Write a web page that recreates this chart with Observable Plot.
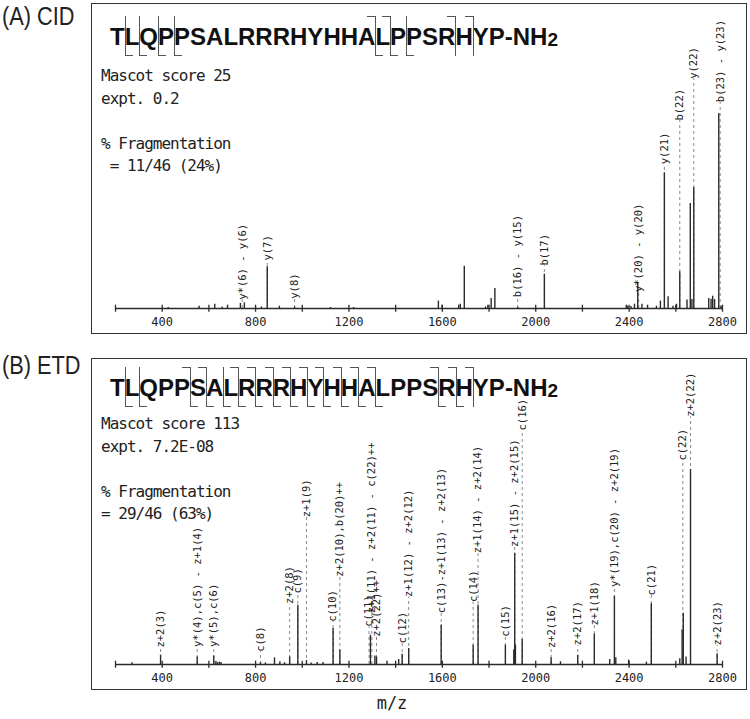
<!DOCTYPE html>
<html>
<head>
<meta charset="utf-8">
<script src="https://cdn.jsdelivr.net/npm/d3@7"></script>
<script src="https://cdn.jsdelivr.net/npm/@observablehq/plot@0.6"></script>
<style>
  body { margin: 0; background: #fff; }
  #root { position: relative; width: 750px; height: 719px; overflow: hidden; color: #222; font-family: "DejaVu Sans Mono", monospace; }
  .box { position: absolute; border: 1px solid #333; box-sizing: border-box; pointer-events: none; }
  .plot { position: absolute; }
  .plot svg { overflow: visible; }
  .plabel { position: absolute; left: 2px; font-family: "Liberation Sans", Arial, sans-serif; font-size: 25px; line-height: 25px; white-space: nowrap; transform: scaleX(0.87); transform-origin: 0 0; }
  .info { position: absolute; left: 101px; font-family: "DejaVu Sans Mono", monospace; font-size: 16px; letter-spacing: -1px; line-height: 22.5px; white-space: pre; }
  .seq { position: absolute; left: 110px; font-family: "Liberation Sans", Arial, sans-serif; font-weight: bold; font-size: 24px; line-height: 24px; white-space: nowrap; color: #111; }
  .seq .sub { font-size: 19px; vertical-align: -1px; }
  .cut { display: inline-block; position: relative; width: 0; height: 0; vertical-align: baseline; }
  .cut i { position: absolute; display: block; }
  .cut .v { left: 0; top: -29px; height: 40px; border-left: 1px solid #555; }
  .cut .t { left: -8px; top: -29px; width: 8px; border-top: 1px solid #555; }
  .cut .b { left: 0; top: 10px; width: 8px; border-top: 1px solid #555; }
  .mz { position: absolute; left: 392px; top: 693px; transform: translateX(-50%); font-family: "DejaVu Sans Mono", monospace; font-size: 17px; }
</style>
</head>
<body>
<div id="root"></div>
<script>
// ---- Data ----
const sequence = "TLQPPSALRRRHYHHALPPSRHYP";
// fragment boundaries: [after residue index, marks] t = b/c-type (top hook), b = y/z-type (bottom hook)
const cutsA = [[1,"b"],[2,"b"],[3,"b"],[4,"b"],[16,"tb"],[17,"tb"],[18,"b"],[21,"t"],[22,"t"]];
const cutsB = [[1,"b"],[2,"b"],[5,"tb"],[6,"tb"],[7,"b"],[8,"tb"],[9,"tb"],[10,"tb"],[11,"tb"],[12,"tb"],[13,"tb"],[14,"tb"],[15,"tb"],[16,"tb"],[20,"tb"],[21,"tb"],[22,"t"]];

const infoA = ["Mascot score 25", "expt. 0.2", "", "% Fragmentation", " = 11/46 (24%)"];
const infoB = ["Mascot score 113", "expt. 7.2E-08", "", "% Fragmentation", "= 29/46 (63%)"];

const tickValues = [200, 400, 600, 800, 1000, 1200, 1400, 1600, 1800, 2000, 2200, 2400, 2600, 2800];
const tickLabels = [400, 800, 1200, 1600, 2000, 2400, 2800];

// CID peaks: m/z, relative intensity (%)
const cidMz  = [426, 558, 625, 657, 680, 735, 752, 825, 850, 902, 967, 1121, 1220, 1583, 1599, 1670, 1677, 1694, 1785, 1795, 1809, 1825, 1923, 2037, 2388, 2393, 2408, 2423, 2437, 2455, 2479, 2517, 2534, 2551, 2567, 2588, 2603, 2617, 2648, 2662, 2669, 2677, 2741, 2751, 2758, 2766, 2784, 2794];
const cidInt = [0.5, 1.2, 2.2, 0.8, 1.7, 2.6, 2.9, 0.8, 21.4, 1.2, 0.8, 0.5, 0.5, 3.8, 1.7, 1.7, 2.2, 21.7, 0.8, 1.7, 5.1, 10.3, 0.6, 17.6, 1.7, 1.2, 1.0, 2.2, 13.2, 2.2, 1.7, 1.2, 3.8, 69.6, 6.0, 1.2, 2.2, 18.8, 4.3, 53.8, 4.6, 62.0, 5.1, 4.8, 6.3, 4.6, 100, 1.2];
const cidLabelMz   = [743, 850, 967, 1923, 2037, 2441, 2551, 2617, 2677, 2790];
const cidLabelText = ["y*(6) - y(6)", "y(7)", "y(8)", "b(16) - y(15)", "b(17)", "y*(20) - y(20)", "y(21)", "b(22)", "y(22)", "b(23) - y(23)"];
const cidLabelBase = [4.5, 24.6, 5, 5.8, 22, 8.4, 74, 96.4, 117.8, 105.8];

// ETD peaks
const etdMz  = [271, 393, 550, 621, 630, 637, 645, 652, 821, 842, 881, 904, 924, 946, 981, 1018, 1038, 1064, 1089, 1132, 1161, 1292, 1311, 1318, 1363, 1413, 1428, 1456, 1595, 1732, 1753, 1870, 1906, 1910, 1913, 1942, 2066, 2106, 2180, 2251, 2317, 2337, 2343, 2398, 2474, 2495, 2617, 2627, 2632, 2644, 2663, 2777];
const etdInt = [0.9, 4.8, 3.9, 4.3, 1.5, 1.0, 1.2, 1.0, 1.0, 0.8, 3.4, 1.4, 0.9, 3.9, 30.4, 2.0, 0.8, 1.0, 1.0, 18.5, 7.4, 15, 4.3, 3.9, 1.7, 2.6, 5.3, 8.2, 20.2, 9.9, 30.4, 9.9, 7.4, 57, 10, 12.8, 3.4, 1.4, 4.8, 15.6, 2.6, 35, 3.4, 2.2, 1.2, 31.1, 2.9, 17.8, 26.3, 3.8, 100, 5.5];
const etdLabelMz   = [393, 550, 621, 821, 946, 981, 1018, 1132, 1161, 1286, 1298, 1318, 1428, 1456, 1595, 1732, 1753, 1870, 1910, 1942, 2066, 2180, 2251, 2337, 2495, 2630, 2663, 2777];
const etdLabelText = ["z+2(3)", "y*(4),c(5) - z+1(4)", "y*(5),c(6)", "c(8)", "z+2(8)", "c(9)", "z+1(9)", "c(10)", "z+2(10),b(20)++", "c(11)", "z+1(11) - z+2(11) - c(22)++", "z+2(22)++", "c(12)", "z+1(12) - z+2(12)", "c(13)-z+1(13) - z+2(13)", "c(14)", "z+1(14) - z+2(14)", "c(15)", "z+1(15) - z+2(15)", "c(16)", "z+2(16)", "z+2(17)", "z+1(18)", "y*(19),c(20) - z+2(19)", "c(21)", "c(22)", "z+2(22)", "z+2(23)"];
const etdLabelBase = [8.7, 9, 9, 6.5, 31, 36.4, 75.5, 21.9, 45, 19.3, 26.3, 14.2, 10.8, 34.6, 26.3, 32, 57, 14.2, 60.3, 120, 8.4, 9.8, 20, 39.7, 35.4, 104.6, 127, 9.8];

// ---- Build ----
const root = document.getElementById("root");

function zipPeaks(mz, it) { return mz.map((m, i) => ({mz: m, int: it[i]})); }
function zipLabels(mz, txt, base) { return mz.map((m, i) => ({mz: m, text: txt[i], base: base[i]})); }

function seqHtml(seq, cuts) {
  const map = new Map(cuts);
  let h = "";
  for (let i = 0; i < seq.length; i++) {
    h += seq[i];
    const c = map.get(i + 1);
    if (c) {
      h += '<span class="cut"><i class="v"></i>' + (c.includes("t") ? '<i class="t"></i>' : '') + (c.includes("b") ? '<i class="b"></i>' : '') + '</span>';
    }
  }
  return h + '-NH<span class="sub">2</span>';
}

function spectrum(peaks, labels, height, marginTop) {
  return Plot.plot({
    width: 654,
    height,
    marginLeft: 23,
    marginRight: 24,
    marginTop,
    marginBottom: 25,
    x: {domain: [200, 2800], label: null},
    y: {domain: [0, 100], axis: null},
    style: {background: "transparent", fontFamily: "DejaVu Sans Mono, monospace", color: "#222"},
    marks: [
      Plot.ruleX(labels, {x: "mz", y1: 0, y2: "base", stroke: "#8a8a8a", strokeWidth: 1, strokeDasharray: "3,3"}),
      Plot.ruleX(peaks, {x: "mz", y1: 0, y2: "int", stroke: "#2a2a2a", strokeWidth: 1.4}),
      Plot.ruleY([0], {x1: 200, x2: 2800, stroke: "#2a2a2a", strokeWidth: 1.5}),
      Plot.ruleX(tickValues, {x: d => d, y1: -1.9, y2: 1.7, stroke: "#2a2a2a", strokeWidth: 1.3}),
      Plot.axisX({ticks: tickLabels, tickFormat: d => String(d), label: null, tickSize: 0, tickPadding: 9, fontSize: 12, fill: "#222"}),
      Plot.text(labels, {x: "mz", y: "base", text: "text", rotate: -90, textAnchor: "start", fontSize: 10.5, fill: "#222"})
    ]
  });
}

function addPanel(cfg) {
  const box = document.createElement("div");
  box.className = "box";
  Object.assign(box.style, {left: "91px", top: cfg.boxTop + "px", width: "656px", height: cfg.boxH + "px"});

  const lab = document.createElement("div");
  lab.className = "plabel";
  lab.style.top = cfg.labelTop + "px";
  lab.textContent = cfg.label;
  root.appendChild(lab);

  const wrap = document.createElement("div");
  wrap.className = "plot";
  Object.assign(wrap.style, {left: "92px", top: cfg.plotTop + "px"});
  wrap.appendChild(spectrum(cfg.peaks, cfg.labels, cfg.plotH, cfg.marginTop));
  root.appendChild(wrap);

  const seq = document.createElement("div");
  seq.className = "seq";
  seq.style.top = cfg.seqTop + "px";
  seq.innerHTML = seqHtml(sequence, cfg.cuts);
  root.appendChild(seq);

  const info = document.createElement("div");
  info.className = "info";
  info.style.top = cfg.infoTop + "px";
  info.textContent = cfg.info.join("\n");
  root.appendChild(info);

  root.appendChild(box);
}

addPanel({
  label: "(A) CID", labelTop: 4, boxTop: 3, boxH: 331, plotTop: 3, plotH: 330, marginTop: 110,
  seqTop: 25, infoTop: 65, cuts: cutsA, info: infoA,
  peaks: zipPeaks(cidMz, cidInt), labels: zipLabels(cidLabelMz, cidLabelText, cidLabelBase)
});
addPanel({
  label: "(B) ETD", labelTop: 353, boxTop: 358, boxH: 332, plotTop: 358, plotH: 331, marginTop: 111,
  seqTop: 376, infoTop: 413, cuts: cutsB, info: infoB,
  peaks: zipPeaks(etdMz, etdInt), labels: zipLabels(etdLabelMz, etdLabelText, etdLabelBase)
});

const mz = document.createElement("div");
mz.className = "mz";
mz.textContent = "m/z";
root.appendChild(mz);
</script>
</body>
</html>
